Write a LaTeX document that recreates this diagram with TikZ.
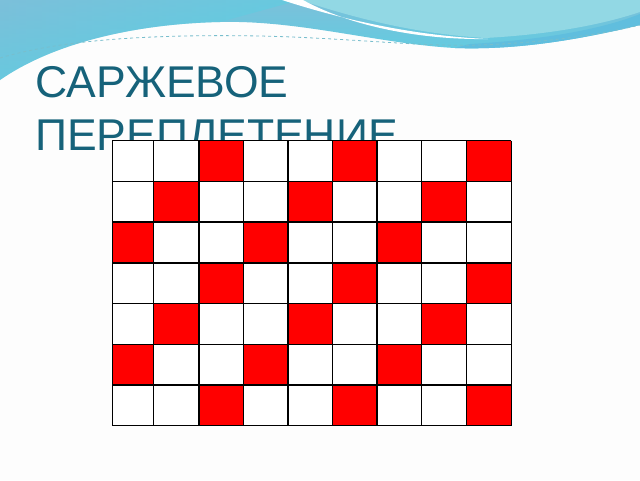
\documentclass[tikz,border=0pt]{standalone}
\usepackage{fontspec}
\setmainfont{Liberation Sans}
\begin{document}
\begin{tikzpicture}[x=1pt,y=-1pt,
  titletext/.style={anchor=base west,inner sep=0pt,text=titleteal,font=\fontsize{44.5}{44.5}\selectfont},
  cellline/.style={draw=black,line width=1.4pt},
  redcell/.style={fill=weavered}]
\definecolor{titleteal}{RGB}{22,98,122}
\definecolor{weavered}{RGB}{255,0,0}
\definecolor{bgwhite}{RGB}{253,253,253}
\definecolor{waveA}{RGB}{124,192,218}
\definecolor{waveB}{RGB}{84,210,228}
\definecolor{waveC}{RGB}{146,216,228}
\definecolor{waveD}{RGB}{96,190,222}
\definecolor{dashc}{RGB}{120,190,205}
\useasboundingbox (0,0) rectangle (640,480);
\fill[bgwhite] (0,0) rectangle (640,480);
% top wave band
\shade[top color=waveA,bottom color=waveB]
  (0,0) -- (640,0) -- (640,25) .. controls (570,42) and (510,50) .. (455,48)
  .. controls (380,44) and (300,20) .. (220,22)
  .. controls (130,24) and (50,45) .. (0,80) -- cycle;
\shade[left color=waveA,right color=waveB,opacity=0.5]
  (0,0) -- (300,0) -- (220,22) .. controls (130,24) and (50,45) .. (0,80) -- cycle;
\fill[waveC] (300,0) .. controls (360,20) and (420,34) .. (485,38)
  .. controls (560,34) and (610,22) .. (640,12) -- (640,0) -- cycle;
\fill[waveD] (470,44) .. controls (540,40) and (600,30) .. (640,14) -- (640,25)
  .. controls (570,42) and (510,50) .. (455,48) -- cycle;
\fill[white] (282,0) .. controls (350,22) and (420,36) .. (488,39)
  .. controls (420,40) and (350,26) .. (303,0) -- cycle;
\draw[dashc,dashed,line width=0.8pt] (0,58) .. controls (60,40) and (150,34) .. (260,36)
  .. controls (350,38) and (420,47) .. (480,45)
  .. controls (560,42) and (610,32) .. (640,25);
% title
\node[titletext] (t1) at (35,97) {САРЖЕВОЕ};
\node[titletext] (t2) at (35,150) {ПЕРЕПЛЕТЕНИЕ};
% grid
\def\colxs{{112.2,153.5,198.8,243.3,287.8,332.2,377.1,421.6,466.5,511.4}}
\def\rowys{{140.7,181.3,222,263,303.7,344.3,385,425.7}}
\fill[white] (112.2,140.7) rectangle (511.4,425.7);
\foreach \r in {0,...,6}{
  \foreach \c in {0,...,8}{
    \pgfmathtruncatemacro{\m}{mod(\c+\r,3)}
    \ifnum\m=2
      \pgfmathsetmacro{\xa}{\colxs[\c]}
      \pgfmathsetmacro{\xb}{\colxs[\c+1]}
      \pgfmathsetmacro{\ya}{\rowys[\r]}
      \pgfmathsetmacro{\yb}{\rowys[\r+1]}
      \fill[redcell] (\xa,\ya) rectangle (\xb,\yb);
    \fi
  }
}
\foreach \c in {0,...,9}{
  \pgfmathsetmacro{\xa}{\colxs[\c]}
  \draw[cellline] (\xa,140.7) -- (\xa,425.7);
}
\foreach \r in {0,...,7}{
  \pgfmathsetmacro{\ya}{\rowys[\r]}
  \draw[cellline] (112.2,\ya) -- (511.4,\ya);
}
\end{tikzpicture}
\end{document}
